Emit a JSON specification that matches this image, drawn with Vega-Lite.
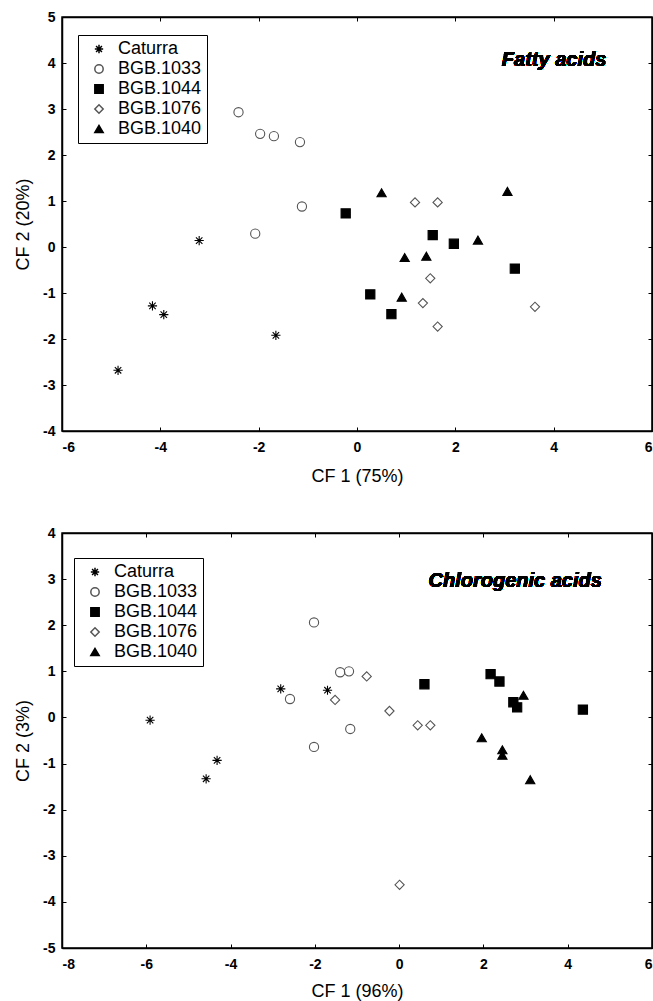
{
  "$schema": "https://vega.github.io/schema/vega-lite/v6.json",
  "padding": {"left": 13, "top": 9, "right": 0, "bottom": 0},
  "spacing": 39,
  "config": {
    "view": {"stroke": "black", "strokeWidth": 1.5},
    "style": {
      "guide-label": {"font": "Liberation Sans", "fontWeight": "bold", "fontSize": 14, "fill": "black"},
      "guide-title": {"font": "Liberation Sans", "fontWeight": "normal", "fontSize": 18, "fill": "black"}
    },
    "axis": {
      "labelFont": "Liberation Sans", "labelFontWeight": "bold", "labelFontSize": 14, "labelColor": "black",
      "titleFont": "Liberation Sans", "titleFontWeight": "normal", "titleFontSize": 18, "titleColor": "black",
      "domainColor": "black", "domainWidth": 1.5, "tickColor": "black", "tickWidth": 1, "tickSize": -4,
      "grid": false, "labelExpr": "'' + datum.value"
    },
    "axisX": {"labelPadding": 13},
    "axisY": {"labelPadding": 11},
    "legend": {
      "labelFont": "Liberation Sans", "labelFontSize": 18, "labelFontWeight": "normal", "labelColor": "black",
      "strokeColor": "black", "fillColor": "white", "padding": 5, "rowPadding": 2,
      "symbolOffset": 7, "labelOffset": 10, "symbolSize": 70
    }
  },
  "datasets": {
    "pts": [
      {"panel": "fatty", "group": "Caturra", "x": -3.21, "y": 0.14},
      {"panel": "fatty", "group": "Caturra", "x": -4.16, "y": -1.28},
      {"panel": "fatty", "group": "Caturra", "x": -3.93, "y": -1.47},
      {"panel": "fatty", "group": "Caturra", "x": -1.65, "y": -1.92},
      {"panel": "fatty", "group": "Caturra", "x": -4.86, "y": -2.68},
      {"panel": "fatty", "group": "BGB.1033", "x": -2.41, "y": 2.93},
      {"panel": "fatty", "group": "BGB.1033", "x": -1.97, "y": 2.46},
      {"panel": "fatty", "group": "BGB.1033", "x": -1.69, "y": 2.41},
      {"panel": "fatty", "group": "BGB.1033", "x": -1.16, "y": 2.28},
      {"panel": "fatty", "group": "BGB.1033", "x": -2.07, "y": 0.29},
      {"panel": "fatty", "group": "BGB.1033", "x": -1.12, "y": 0.88},
      {"panel": "fatty", "group": "BGB.1044", "x": -0.23, "y": 0.73},
      {"panel": "fatty", "group": "BGB.1044", "x": 1.54, "y": 0.26},
      {"panel": "fatty", "group": "BGB.1044", "x": 1.97, "y": 0.07},
      {"panel": "fatty", "group": "BGB.1044", "x": 3.21, "y": -0.47},
      {"panel": "fatty", "group": "BGB.1044", "x": 0.27, "y": -1.03},
      {"panel": "fatty", "group": "BGB.1044", "x": 0.70, "y": -1.46},
      {"panel": "fatty", "group": "BGB.1076", "x": 1.18, "y": 0.97},
      {"panel": "fatty", "group": "BGB.1076", "x": 1.64, "y": 0.97},
      {"panel": "fatty", "group": "BGB.1076", "x": 1.49, "y": -0.68},
      {"panel": "fatty", "group": "BGB.1076", "x": 1.34, "y": -1.22},
      {"panel": "fatty", "group": "BGB.1076", "x": 1.64, "y": -1.73},
      {"panel": "fatty", "group": "BGB.1076", "x": 3.62, "y": -1.30},
      {"panel": "fatty", "group": "BGB.1040", "x": 0.50, "y": 1.18},
      {"panel": "fatty", "group": "BGB.1040", "x": 3.06, "y": 1.21},
      {"panel": "fatty", "group": "BGB.1040", "x": 2.46, "y": 0.15},
      {"panel": "fatty", "group": "BGB.1040", "x": 0.97, "y": -0.23},
      {"panel": "fatty", "group": "BGB.1040", "x": 1.41, "y": -0.20},
      {"panel": "fatty", "group": "BGB.1040", "x": 0.91, "y": -1.09},
      {"panel": "chloro", "group": "Caturra", "x": -5.91, "y": -0.06},
      {"panel": "chloro", "group": "Caturra", "x": -2.81, "y": 0.62},
      {"panel": "chloro", "group": "Caturra", "x": -1.70, "y": 0.59},
      {"panel": "chloro", "group": "Caturra", "x": -4.32, "y": -0.93},
      {"panel": "chloro", "group": "Caturra", "x": -4.58, "y": -1.33},
      {"panel": "chloro", "group": "BGB.1033", "x": -2.02, "y": 2.06},
      {"panel": "chloro", "group": "BGB.1033", "x": -2.59, "y": 0.40},
      {"panel": "chloro", "group": "BGB.1033", "x": -1.40, "y": 0.98},
      {"panel": "chloro", "group": "BGB.1033", "x": -1.19, "y": 1.00},
      {"panel": "chloro", "group": "BGB.1033", "x": -1.16, "y": -0.25},
      {"panel": "chloro", "group": "BGB.1033", "x": -2.02, "y": -0.64},
      {"panel": "chloro", "group": "BGB.1044", "x": 0.60, "y": 0.72},
      {"panel": "chloro", "group": "BGB.1044", "x": 2.17, "y": 0.94},
      {"panel": "chloro", "group": "BGB.1044", "x": 2.38, "y": 0.78},
      {"panel": "chloro", "group": "BGB.1044", "x": 2.71, "y": 0.33},
      {"panel": "chloro", "group": "BGB.1044", "x": 2.80, "y": 0.22},
      {"panel": "chloro", "group": "BGB.1044", "x": 4.36, "y": 0.17},
      {"panel": "chloro", "group": "BGB.1076", "x": -0.77, "y": 0.89},
      {"panel": "chloro", "group": "BGB.1076", "x": -1.52, "y": 0.38},
      {"panel": "chloro", "group": "BGB.1076", "x": -0.23, "y": 0.14},
      {"panel": "chloro", "group": "BGB.1076", "x": 0.44, "y": -0.17},
      {"panel": "chloro", "group": "BGB.1076", "x": 0.74, "y": -0.17},
      {"panel": "chloro", "group": "BGB.1076", "x": 0.01, "y": -3.63},
      {"panel": "chloro", "group": "BGB.1040", "x": 2.95, "y": 0.48},
      {"panel": "chloro", "group": "BGB.1040", "x": 1.96, "y": -0.44},
      {"panel": "chloro", "group": "BGB.1040", "x": 2.45, "y": -0.70},
      {"panel": "chloro", "group": "BGB.1040", "x": 2.45, "y": -0.82},
      {"panel": "chloro", "group": "BGB.1040", "x": 3.11, "y": -1.35}
    ]
  },
  "resolve": {"legend": {"shape": "independent", "fill": "independent", "stroke": "independent"}},
  "vconcat": [
    {
      "width": 590, "height": 414,
      "data": {"name": "pts"},
      "transform": [{"filter": "datum.panel == 'fatty'"}],
      "layer": [
        {
          "mark": {"type": "point", "filled": true, "size": 85, "strokeWidth": 1.1, "opacity": 1},
          "encoding": {
            "x": {"field": "x", "type": "quantitative", "scale": {"domain": [-6, 6], "nice": false, "zero": false},
                  "axis": {"values": [-6, -4, -2, 0, 2, 4, 6], "title": "CF 1 (75%)", "titleY": 45, "titleBaseline": "middle", "labelFontSize": 14, "labelFontWeight": "bold"}},
            "y": {"field": "y", "type": "quantitative", "scale": {"domain": [-4, 5], "nice": false, "zero": false},
                  "axis": {"values": [-4, -3, -2, -1, 0, 1, 2, 3, 4, 5], "title": "CF 2 (20%)", "titleX": -39, "titleBaseline": "middle", "labelFontSize": 14, "labelFontWeight": "bold"}},
            "shape": {"field": "group", "type": "nominal",
                      "scale": {"domain": ["Caturra", "BGB.1033", "BGB.1044", "BGB.1076", "BGB.1040"],
                                "range": ["M-1,0H1M0,-1V1M-0.7,-0.7L0.7,0.7M-0.7,0.7L0.7,-0.7", "circle", "square", "diamond", "triangle-up"]},
                      "legend": {"orient": "none", "legendX": 16, "legendY": 18, "title": null}},
            "fill": {"field": "group", "type": "nominal",
                     "scale": {"domain": ["Caturra", "BGB.1033", "BGB.1044", "BGB.1076", "BGB.1040"],
                               "range": ["transparent", "transparent", "black", "transparent", "black"]},
                     "legend": {"orient": "none", "legendX": 16, "legendY": 18, "title": null}},
            "stroke": {"field": "group", "type": "nominal",
                       "scale": {"domain": ["Caturra", "BGB.1033", "BGB.1044", "BGB.1076", "BGB.1040"],
                                 "range": ["black", "#555555", "black", "#555555", "black"]},
                       "legend": {"orient": "none", "legendX": 16, "legendY": 18, "title": null}}
          }
        },
        {
          "mark": {"type": "point", "opacity": 0},
          "encoding": {
            "x": {"field": "x", "type": "quantitative", "axis": {"orient": "top", "values": [-6, -4, -2, 0, 2, 4, 6], "labels": false, "title": null}},
            "y": {"field": "y", "type": "quantitative", "axis": {"orient": "right", "values": [-4, -3, -2, -1, 0, 1, 2, 3, 4, 5], "labels": false, "title": null}}
          }
        },
        {
          "mark": {"type": "text", "text": "Fatty acids", "font": "Liberation Sans", "fontStyle": "italic", "fontWeight": "bold", "fontSize": 20, "align": "right", "baseline": "middle", "fill": "black", "strokeWidth": 0},
          "encoding": {
            "x": {"datum": 5.07, "type": "quantitative", "axis": null},
            "y": {"datum": 4.07, "type": "quantitative", "axis": null}
          }
        }
      ],
      "resolve": {"axis": {"x": "independent", "y": "independent"}}
    },
    {
      "width": 590, "height": 415,
      "data": {"name": "pts"},
      "transform": [{"filter": "datum.panel == 'chloro'"}],
      "layer": [
        {
          "mark": {"type": "point", "filled": true, "size": 85, "strokeWidth": 1.1, "opacity": 1},
          "encoding": {
            "x": {"field": "x", "type": "quantitative", "scale": {"domain": [-8, 6], "nice": false, "zero": false},
                  "axis": {"values": [-8, -6, -4, -2, 0, 2, 4, 6], "title": "CF 1 (96%)", "titleY": 43, "titleBaseline": "middle", "labelFontSize": 14, "labelFontWeight": "bold"}},
            "y": {"field": "y", "type": "quantitative", "scale": {"domain": [-5, 4], "nice": false, "zero": false},
                  "axis": {"values": [-5, -4, -3, -2, -1, 0, 1, 2, 3, 4], "title": "CF 2 (3%)", "titleX": -39, "titleBaseline": "middle", "labelFontSize": 14, "labelFontWeight": "bold"}},
            "shape": {"field": "group", "type": "nominal",
                      "scale": {"domain": ["Caturra", "BGB.1033", "BGB.1044", "BGB.1076", "BGB.1040"],
                                "range": ["M-1,0H1M0,-1V1M-0.7,-0.7L0.7,0.7M-0.7,0.7L0.7,-0.7", "circle", "square", "diamond", "triangle-up"]},
                      "legend": {"orient": "none", "legendX": 12, "legendY": 25, "title": null}},
            "fill": {"field": "group", "type": "nominal",
                     "scale": {"domain": ["Caturra", "BGB.1033", "BGB.1044", "BGB.1076", "BGB.1040"],
                               "range": ["transparent", "transparent", "black", "transparent", "black"]},
                     "legend": {"orient": "none", "legendX": 12, "legendY": 25, "title": null}},
            "stroke": {"field": "group", "type": "nominal",
                       "scale": {"domain": ["Caturra", "BGB.1033", "BGB.1044", "BGB.1076", "BGB.1040"],
                                 "range": ["black", "#555555", "black", "#555555", "black"]},
                       "legend": {"orient": "none", "legendX": 12, "legendY": 25, "title": null}}
          }
        },
        {
          "mark": {"type": "point", "opacity": 0},
          "encoding": {
            "x": {"field": "x", "type": "quantitative", "axis": {"orient": "top", "values": [-8, -6, -4, -2, 0, 2, 4, 6], "labels": false, "title": null}},
            "y": {"field": "y", "type": "quantitative", "axis": {"orient": "right", "values": [-5, -4, -3, -2, -1, 0, 1, 2, 3, 4], "labels": false, "title": null}}
          }
        },
        {
          "mark": {"type": "text", "text": "Chlorogenic acids", "font": "Liberation Sans", "fontStyle": "italic", "fontWeight": "bold", "fontSize": 20, "align": "right", "baseline": "middle", "fill": "black", "strokeWidth": 0},
          "encoding": {
            "x": {"datum": 4.81, "type": "quantitative", "axis": null},
            "y": {"datum": 2.96, "type": "quantitative", "axis": null}
          }
        }
      ],
      "resolve": {"axis": {"x": "independent", "y": "independent"}}
    }
  ]
}
